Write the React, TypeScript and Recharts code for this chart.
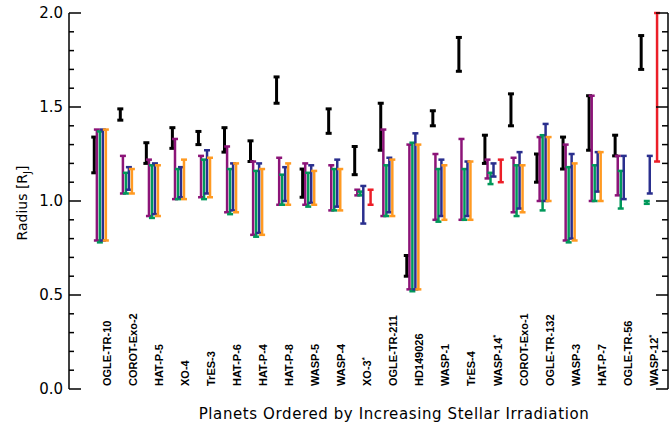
import { ComposedChart, Scatter, ErrorBar, XAxis, YAxis } from 'recharts';

const planets = [
  'OGLE-TR-10', 'COROT-Exo-2', 'HAT-P-5', 'XO-4', 'TrES-3', 'HAT-P-6', 'HAT-P-4', 'HAT-P-8',
  'WASP-5', 'WASP-4', 'XO-3*', 'OGLE-TR-211', 'HD149026', 'WASP-1', 'TrES-4', 'WASP-14*',
  'COROT-Exo-1', 'OGLE-TR-132', 'WASP-3', 'HAT-P-7', 'OGLE-TR-56', 'WASP-12*',
];

type Range = [number, number] | null;

// measured radius [low, high]
const observed: Range[] = [
  [1.15, 1.34], [1.43, 1.49], [1.2, 1.31], [1.28, 1.39], [1.3, 1.37], [1.26, 1.39], [1.21, 1.32], [1.52, 1.66],
  [1.02, 1.17], [1.36, 1.49], [1.14, 1.29], [1.27, 1.52], [0.6, 0.71], [1.4, 1.48], [1.69, 1.87], [1.2, 1.35],
  [1.4, 1.57], [1.1, 1.25], [1.17, 1.34], [1.27, 1.56], [1.24, 1.35], [1.7, 1.88],
];

const purple: Range[] = [
  [0.79, 1.38], [1.04, 1.24], [0.92, 1.22], [1.01, 1.33], [1.02, 1.24], [0.94, 1.29], [0.82, 1.21], [0.98, 1.23],
  [0.98, 1.2], [0.95, 1.19], [1.03, 1.06], [0.92, 1.38], [0.53, 1.3], [0.9, 1.25], [0.9, 1.33], [1.12, 1.22],
  [0.94, 1.23], [1.0, 1.34], [0.79, 1.3], [1.0, 1.56], [1.03, 1.24], null,
];

const green: Range[] = [
  [0.78, 1.37], [1.04, 1.15], [0.91, 1.19], [1.01, 1.17], [1.01, 1.22], [0.93, 1.17], [0.81, 1.16], [0.98, 1.14],
  [0.97, 1.15], [0.95, 1.17], [1.03, 1.05], [0.92, 1.19], [0.52, 1.31], [0.89, 1.17], [0.9, 1.17], [1.09, 1.15],
  [0.92, 1.19], [0.95, 1.35], [0.78, 1.18], [1.0, 1.19], [0.96, 1.16], [0.985, 1.0],
];

const blue: Range[] = [
  [0.79, 1.38], [1.06, 1.18], [0.93, 1.2], [1.02, 1.18], [1.04, 1.27], [0.95, 1.2], [0.83, 1.2], [1.0, 1.18],
  [0.99, 1.19], [0.97, 1.22], [0.88, 1.08], [0.94, 1.23], [0.53, 1.36], [0.92, 1.22], [0.92, 1.21], [1.13, 1.2],
  [0.96, 1.26], [1.0, 1.41], [0.8, 1.25], [1.05, 1.26], [1.01, 1.24], [1.04, 1.24],
];

const orange: Range[] = [
  [0.79, 1.38], [1.04, 1.17], [0.92, 1.19], [1.01, 1.22], [1.02, 1.23], [0.94, 1.2], [0.82, 1.17], [0.98, 1.2],
  [0.98, 1.16], [0.95, 1.17], null, [0.92, 1.22], [0.53, 1.3], [0.9, 1.19], [0.9, 1.21], null,
  [0.94, 1.19], [1.0, 1.34], [0.79, 1.2], [1.0, 1.26], null, null,
];

const red: Range[] = [
  null, null, null, null, null, null, null, null,
  null, null, [0.98, 1.06], null, null, null, null, [1.1, 1.22],
  null, null, null, null, null, [1.21, 2.0],
];

const yTicks = Array.from({ length: 21 }, (_, i) => Math.round(i * 10) / 100);
const xTicks = planets.map((_, i) => i);

// small horizontal shift of each series inside a planet's slot
const series = [
  { key: 'obs', ranges: observed, color: '#000000', shift: -0.33, sw: 3 },
  { key: 'purple', ranges: purple, color: '#8c1478', shift: -0.23, sw: 2.5 },
  { key: 'green', ranges: green, color: '#00985a', shift: -0.115, sw: 2.5 },
  { key: 'blue', ranges: blue, color: '#2a2f8e', shift: 0, sw: 2.5 },
  { key: 'orange', ranges: orange, color: '#ff9a22', shift: 0.115, sw: 2.5 },
  { key: 'red', ranges: red, color: '#ec1e28', shift: 0.28, sw: 2.5 },
];

const toPoints = (ranges: Range[], shift: number) =>
  ranges
    .map((r, i) => (r ? { x: i + shift, y: (r[0] + r[1]) / 2, err: (r[1] - r[0]) / 2 } : null))
    .filter(Boolean);

const font = '"DejaVu Sans", sans-serif';

const LeftTick = (props: any) => {
  const { x, y, payload } = props;
  const v = payload.value;
  const major = Math.abs(v * 2 - Math.round(v * 2)) < 1e-6;
  return (
    <g>
      <line x1={x} y1={y} x2={x + (major ? 12 : 5)} y2={y} stroke="#000" strokeWidth={1.5} />
      {major && (
        <text x={x - 6} y={y + 5} textAnchor="end" fontSize={15} fontFamily={font} fill="#000">
          {v.toFixed(1)}
        </text>
      )}
    </g>
  );
};

const RightTick = (props: any) => {
  const { x, y, payload } = props;
  const v = payload.value;
  const major = Math.abs(v * 2 - Math.round(v * 2)) < 1e-6;
  return <line x1={x} y1={y} x2={x - (major ? 12 : 6)} y2={y} stroke="#000" strokeWidth={1.5} />;
};

const PlanetTick = (props: any) => {
  const { x, y, payload } = props;
  const name = planets[payload.value] ?? '';
  const star = name.endsWith('*');
  const base = star ? name.slice(0, -1) : name;
  const tx = x + 8;
  const ty = y - 3;
  return (
    <text
      x={tx}
      y={ty}
      transform={`rotate(-90 ${tx} ${ty})`}
      textAnchor="start"
      fontSize={11}
      fontWeight="bold"
      fontFamily='"Liberation Sans", Arial, sans-serif'
      fill="#000"
    >
      {base}
      {star && (
        <tspan dy={-4} fontSize={8}>
          *
        </tspan>
      )}
    </text>
  );
};

const XTitle = () => (
  <text x={394} y={419} textAnchor="middle" fontSize={15} fontFamily={font} fill="#000" letterSpacing={0.6}>
    Planets Ordered by Increasing Stellar Irradiation
  </text>
);

const YTitle = () => (
  <text x={27} y={203} transform="rotate(-90 27 203)" textAnchor="middle" fontSize={14} fontFamily={font} fill="#000">
    Radius [R
    <tspan dy={4} fontSize={10}>J</tspan>
    <tspan dy={-4}>]</tspan>
  </text>
);

export default function App() {
  return (
    <div style={{ position: 'absolute', left: 0, top: 0, background: '#fff' }}>
      <ComposedChart width={670} height={425} margin={{ top: 13, right: 0, bottom: 0, left: 0 }}>
        <XAxis
          type="number"
          dataKey="x"
          domain={[-1.3, 21.7]}
          allowDataOverflow
          ticks={xTicks}
          interval={0}
          height={36}
          axisLine={false}
          tickLine={false}
          tickSize={0}
          tickMargin={0}
          tick={<PlanetTick />}
          label={<XTitle />}
        />
        <YAxis
          yAxisId="l"
          type="number"
          dataKey="y"
          domain={[0, 2]}
          allowDataOverflow
          ticks={yTicks}
          interval={0}
          width={69}
          axisLine={{ stroke: '#000', strokeWidth: 1.5 }}
          tickLine={false}
          tickSize={0}
          tickMargin={0}
          tick={<LeftTick />}
          label={<YTitle />}
        />
        <YAxis
          yAxisId="r"
          orientation="right"
          type="number"
          domain={[0, 2]}
          allowDataOverflow
          ticks={yTicks}
          interval={0}
          width={2}
          axisLine={{ stroke: '#000', strokeWidth: 1.5 }}
          tickLine={false}
          tickSize={0}
          tickMargin={0}
          tick={<RightTick />}
        />
        {series.map((s) => (
          <Scatter
            key={s.key}
            yAxisId="l"
            data={toPoints(s.ranges, s.shift)}
            dataKey="y"
            shape={() => <g />}
            isAnimationActive={false}
          >
            <ErrorBar dataKey="err" direction="y" width={3} stroke={s.color} strokeWidth={s.sw} isAnimationActive={false} />
          </Scatter>
        ))}
      </ComposedChart>
    </div>
  );
}
